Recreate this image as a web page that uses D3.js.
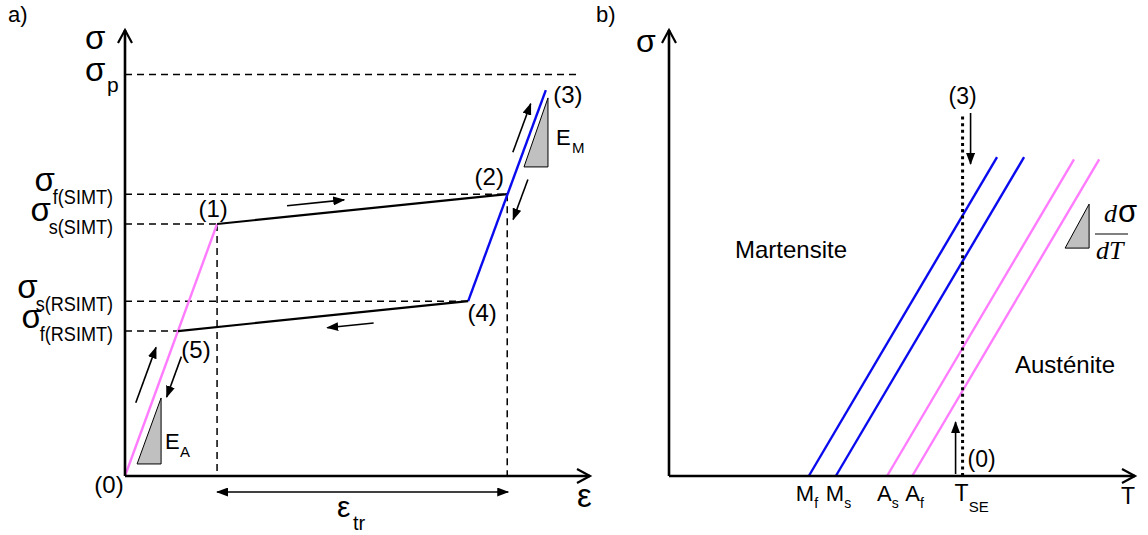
<!DOCTYPE html>
<html>
<head>
<meta charset="utf-8">
<script src="https://cdn.jsdelivr.net/npm/d3@7"></script>
<style>
  body { margin: 0; background: #fff; }
  svg text { font-family: "Liberation Sans", Arial, sans-serif; fill: #000; }
</style>
</head>
<body>
<svg id="chart" width="1148" height="535"></svg>
<script>
// panel a: stress-strain loop (arbitrary units)
const pointNames = ["(0)", "(1)", "(2)", "(3)", "(4)", "(5)"];
const pointStrain = [0, 1.98, 8.22, 9.05, 7.38, 1.14];
const pointStress = [0, 5.65, 6.32, 8.65, 3.92, 3.25];
const levelSubs = ["p", "f(SIMT)", "s(SIMT)", "s(RSIMT)", "f(RSIMT)"];
const levelStress = [9.0, 6.32, 5.65, 3.92, 3.25];
const levelReach = [9.74, 8.22, 1.98, 7.38, 1.14];

// panel b: phase diagram
const tempNames = ["M", "M", "A", "A"];
const tempSubs = ["f", "s", "s", "f"];
const tempStart = [3.0, 3.58, 4.68, 5.22];
const tempTop = [7.15, 7.15, 7.1, 7.1];
const tSE = 6.3;
const tSETop = 8.09;

const blue = "#0a0aee", pink = "#ff7cff", grey = "#c0c0c0";

const svg = d3.select("#chart");
const xA = d3.scaleLinear().domain([0, 10]).range([125, 590]);
const yA = d3.scaleLinear().domain([0, 10]).range([476, 30]);
const xB = d3.scaleLinear().domain([0, 10]).range([669, 1135]);
const yB = d3.scaleLinear().domain([0, 10]).range([476, 30]);

const defs = svg.append("defs");
defs.append("marker").attr("id", "head")
    .attr("markerUnits", "userSpaceOnUse")
    .attr("markerWidth", 12).attr("markerHeight", 9)
    .attr("refX", 11).attr("refY", 4.5)
    .attr("orient", "auto-start-reverse")
  .append("path").attr("d", "M0,0 L12,4.5 L0,9 Z").attr("fill", "#000");
defs.append("marker").attr("id", "open")
    .attr("markerUnits", "userSpaceOnUse")
    .attr("markerWidth", 16).attr("markerHeight", 16)
    .attr("refX", 13).attr("refY", 7)
    .attr("orient", "auto").attr("overflow", "visible")
  .append("path").attr("d", "M0,0 L13,7 L0,14")
    .attr("fill", "none").attr("stroke", "#000").attr("stroke-width", 2.2);

const line = (g, a, b) => g.append("line")
    .attr("x1", a[0]).attr("y1", a[1]).attr("x2", b[0]).attr("y2", b[1]);

function along(p, q, t0, t1, off) {
  const vx = q[0] - p[0], vy = q[1] - p[1], L = Math.hypot(vx, vy);
  const nx = -vy / L, ny = vx / L;
  const pt = t => [p[0] + vx * t + nx * off, p[1] + vy * t + ny * off];
  return [pt(t0), pt(t1)];
}
function arrow(g, ends) {
  line(g, ends[0], ends[1]).attr("stroke", "#000").attr("stroke-width", 1.6)
    .attr("marker-end", "url(#head)");
}
function slopeTri(g, x0, y0, w, h) {
  g.append("path").attr("d", `M${x0},${y0} L${x0 + w},${y0} L${x0 + w},${y0 - h} Z`)
    .attr("fill", grey).attr("stroke", "#000").attr("stroke-width", 1);
}
// narrow a text a little, the labels in the figure are tall and condensed
function squeeze(t, k) {
  const w = t.node().getComputedTextLength();
  t.attr("textLength", w * k).attr("lengthAdjust", "spacingAndGlyphs");
  return w * k;
}

// ---------- panel a ----------
const a = svg.append("g");
const P = pointStrain.map((e, i) => [xA(e), yA(pointStress[i])]);

// dashed guides
levelStress.forEach((s, i) => {
  line(a, [xA(0), yA(s)], [xA(levelReach[i]), yA(s)])
    .attr("stroke", "#000").attr("stroke-width", 1.5).attr("stroke-dasharray", "7,5");
});
[1, 2].forEach(i => {
  line(a, [P[i][0], P[i][1]], [P[i][0], yA(0)])
    .attr("stroke", "#000").attr("stroke-width", 1.5).attr("stroke-dasharray", "7,5");
});

// loop
line(a, P[0], P[1]).attr("stroke", pink).attr("stroke-width", 2.4);
line(a, P[1], P[2]).attr("stroke", "#000").attr("stroke-width", 2.2);
line(a, P[4], P[3]).attr("stroke", blue).attr("stroke-width", 2.4);
line(a, P[4], P[5]).attr("stroke", "#000").attr("stroke-width", 2.2);

// axes
line(a, [xA(0), yA(0)], [xA(0), yA(10)]).attr("stroke", "#000").attr("stroke-width", 2.6)
  .attr("marker-end", "url(#open)");
line(a, [xA(0), yA(0)], [xA(10), yA(0)]).attr("stroke", "#000").attr("stroke-width", 2.6)
  .attr("marker-end", "url(#open)");

// direction arrows
arrow(a, along(P[0], P[1], 0.27, 0.49, -15));
arrow(a, along(P[0], P[1], 0.49, 0.33, 12));
arrow(a, along(P[1], P[2], 0.245, 0.442, -11));
arrow(a, along(P[4], P[5], 0.33, 0.49, -12));
arrow(a, along(P[4], P[3], 0.69, 0.92, -9.5));
arrow(a, along(P[4], P[3], 0.60, 0.41, 14));

// transformation strain
line(a, [P[1][0], 492], [P[2][0] + 1, 492]).attr("stroke", "#000").attr("stroke-width", 1.6)
  .attr("marker-start", "url(#head)").attr("marker-end", "url(#head)");

// slope triangles
slopeTri(a, xA(0.26), yA(0.27), 24, 66);
slopeTri(a, xA(8.58), yA(6.93), 24, 69);

// texts
a.append("text").attr("x", 8).attr("y", 22).attr("font-size", 22).text("a)");
a.append("text").attr("x", 85).attr("y", 49).attr("font-size", 33).text("σ");
a.append("text").attr("x", 85).attr("y", yA(levelStress[0]) + 6).attr("font-size", 33).text("σ");
a.append("text").attr("x", 107).attr("y", yA(levelStress[0]) + 17).attr("font-size", 21).text(levelSubs[0]);
levelStress.slice(1).forEach((s, j) => {
  const sub = a.append("text").attr("x", 113).attr("y", yA(s) + 10)
    .attr("text-anchor", "end").attr("font-size", 21).text(levelSubs[j + 1]);
  const w = squeeze(sub, 0.86);
  a.append("text").attr("x", 115 - w).attr("y", yA(s) - 3)
    .attr("text-anchor", "end").attr("font-size", 33).text("σ");
});

const labelOff = [[-16, 17], [-4, -7], [-18, -9], [22, 13], [14, 20], [18, 27]];
pointNames.forEach((n, i) => {
  a.append("text").attr("x", P[i][0] + labelOff[i][0]).attr("y", P[i][1] + labelOff[i][1])
    .attr("text-anchor", "middle").attr("font-size", 24).text(n);
});

a.append("text").attr("x", 165).attr("y", 449).attr("font-size", 22).text("E");
a.append("text").attr("x", 180).attr("y", 457).attr("font-size", 15).text("A");
a.append("text").attr("x", 556).attr("y", 145).attr("font-size", 22).text("E");
a.append("text").attr("x", 572).attr("y", 153).attr("font-size", 15).text("M");

a.append("text").attr("x", 577).attr("y", 507).attr("font-size", 33).text("ε");
a.append("text").attr("x", 337).attr("y", 517).attr("font-size", 30).text("ε");
a.append("text").attr("x", 353).attr("y", 530).attr("font-size", 20).text("tr");

// ---------- panel b ----------
const b = svg.append("g");

tempStart.forEach((t, i) => {
  line(b, [xB(t), yB(0)], [xB(t + tempTop[i] / 1.77), yB(tempTop[i])])
    .attr("stroke", tempNames[i] === "M" ? blue : pink).attr("stroke-width", 2.4);
});

line(b, [xB(0), yB(0)], [xB(0), yB(10)]).attr("stroke", "#000").attr("stroke-width", 2.6)
  .attr("marker-end", "url(#open)");
line(b, [xB(0), yB(0)], [xB(10), yB(0)]).attr("stroke", "#000").attr("stroke-width", 2.6)
  .attr("marker-end", "url(#open)");

line(b, [xB(tSE), yB(0)], [xB(tSE), yB(tSETop)])
  .attr("stroke", "#000").attr("stroke-width", 3).attr("stroke-dasharray", "3,3.6");

line(b, [xB(tSE) + 8, 113], [xB(tSE) + 8, 164]).attr("stroke", "#000").attr("stroke-width", 1.6)
  .attr("marker-end", "url(#head)");
line(b, [xB(tSE) - 7, 474], [xB(tSE) - 7, 422]).attr("stroke", "#000").attr("stroke-width", 1.6)
  .attr("marker-end", "url(#head)");

slopeTri(b, xB(8.5), yB(5.11), 24, 44);

b.append("text").attr("x", 596).attr("y", 22).attr("font-size", 22).text("b)");
b.append("text").attr("x", 636).attr("y", 52).attr("font-size", 32).text("σ");
b.append("text").attr("x", 1121).attr("y", 504).attr("font-size", 23).text("T");
b.append("text").attr("x", xB(tSE)).attr("y", 104).attr("text-anchor", "middle").attr("font-size", 23).text("(3)");
b.append("text").attr("x", xB(tSE) + 5).attr("y", 467).attr("font-size", 23).text("(0)");
b.append("text").attr("x", 735).attr("y", 258).attr("font-size", 24).text("Martensite");
b.append("text").attr("x", 1015).attr("y", 373).attr("font-size", 24).text("Austénite");

const tempLabelShift = [-13, -10, -10, -7];
tempStart.forEach((t, i) => {
  const tx = b.append("text").attr("x", xB(t) + tempLabelShift[i]).attr("y", 501)
    .attr("font-size", 22);
  tx.append("tspan").text(tempNames[i]);
  tx.append("tspan").attr("dy", 7).attr("font-size", 14).text(tempSubs[i]);
});
const ts = b.append("text").attr("x", xB(tSE) - 8).attr("y", 501).attr("font-size", 23);
ts.append("tspan").text("T");
ts.append("tspan").attr("dy", 11).attr("font-size", 15).text("SE");

// d sigma / dT
b.append("text").attr("x", 1104).attr("y", 222).attr("font-size", 26)
  .attr("font-style", "italic").style("font-family", "'Liberation Serif', serif").text("d");
b.append("text").attr("x", 1118).attr("y", 222).attr("font-size", 31).text("σ");
line(b, [1095, 234], [1128, 234]).attr("stroke", "#000").attr("stroke-width", 1);
b.append("text").attr("x", 1096).attr("y", 259).attr("font-size", 26)
  .attr("font-style", "italic").style("font-family", "'Liberation Serif', serif").text("dT");
</script>
</body>
</html>
